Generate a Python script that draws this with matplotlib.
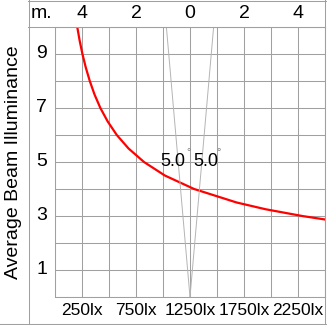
import numpy as np
import matplotlib
matplotlib.use("Agg")
import matplotlib.pyplot as plt
from matplotlib.lines import Line2D

plt.rcParams["font.family"] = ["Liberation Sans", "DejaVu Sans"]

distance_m = [10.0, 9.5, 9.0, 8.5, 8.0, 7.5, 7.0, 6.5, 6.0, 5.5, 5.0,
              4.5, 4.0, 3.5, 3.25, 3.0, 2.87]
lux = [206, 228, 254, 285, 322, 366, 420, 488, 572, 681, 824,
       1017, 1288, 1682, 1950, 2289, 2501]

lux_ticks = [250, 750, 1250, 1750, 2250]
lux_labels = ["250lx", "750lx", "1250lx", "1750lx", "2250lx"]
dist_ticks = [1, 3, 5, 7, 9]
dia_ticks = [-4, -2, 0, 2, 4]
dia_labels = ["4", "2", "0", "2", "4"]
beam_angles = [5.0, 5.0]   # semiángulo izquierdo / derecho

W, H = 327, 325
GRID = "#a0a0a0"
FRAME = "#a0a0a0"
CONE = "#b4b4b4"

fig = plt.figure(figsize=(W / 100, H / 100), dpi=100, facecolor="white")
ax = fig.add_axes([55 / W, 28 / H, 270 / W, 270 / H])
ax.set_xlim(0, 2500)
ax.set_ylim(0, 10)
ax.set_xticks(np.arange(0, 2501, 250))
ax.set_yticks(np.arange(0, 11, 1))
ax.tick_params(length=0, labelbottom=False, labelleft=False)
ax.grid(color=GRID, linewidth=0.75)
for s in ax.spines.values():
    s.set_edgecolor(FRAME)
    s.set_linewidth(0.75)

# eje auxiliar en metros para el cono del haz
axm = ax.twiny()
axm.set_xlim(-5, 5)
axm.set_ylim(0, 10)
axm.tick_params(length=0, labeltop=False, labelbottom=False)
for s in axm.spines.values():
    s.set_visible(False)

ang_l, ang_r = beam_angles
top = 10
axm.plot([0, -top * np.tan(np.radians(ang_l))], [0, top], color=CONE, lw=0.7)
axm.plot([0, top * np.tan(np.radians(ang_r))], [0, top], color=CONE, lw=0.7)

ax.plot(lux, distance_m, color="#ff0000", lw=1.6, zorder=5)

# etiquetas de los ángulos
axm.text(-0.17, 5.0, f"{ang_l:.1f}", ha="right", va="center", fontsize=13, color="black")
axm.text(-0.04, 5.35, "°", ha="center", va="center", fontsize=8, color="#808080")
axm.text(0.11, 5.0, f"{ang_r:.1f}", ha="left", va="center", fontsize=13, color="black")
axm.text(1.07, 5.35, "°", ha="center", va="center", fontsize=8, color="#808080")

# rótulos de ejes
for v in dist_ticks:
    ax.text(-0.05, v, str(v), transform=ax.get_yaxis_transform(),
            ha="center", va="center", fontsize=14)
for v, t in zip(lux_ticks, lux_labels):
    ax.text(v, -0.05, t, transform=ax.get_xaxis_transform(),
            ha="center", va="center", fontsize=12.5)
for v, t in zip(dia_ticks, dia_labels):
    axm.text(v, 1.05, t, transform=axm.get_xaxis_transform(),
             ha="center", va="center", fontsize=14)
ax.text(-0.05, 1.05, "m.", transform=ax.transAxes, ha="center", va="center", fontsize=14)

fig.text(14 / W, 1 - 162 / H, "Average Beam Illuminance", rotation=90,
         ha="center", va="center", fontsize=14)

# marco exterior
def fline(x0, y0, x1, y1):
    fig.add_artist(Line2D([x0 / W, x1 / W], [1 - y0 / H, 1 - y1 / H],
                          color=FRAME, lw=0.75))

fline(28.5, 0, 28.5, H)
fline(28, 0.5, W, 0.5)
fline(28, 27, 325, 27)
fline(0, 324, W, 324)
fline(325, 0, 325, H)

fig.savefig("out.png", dpi=100, facecolor="white")
